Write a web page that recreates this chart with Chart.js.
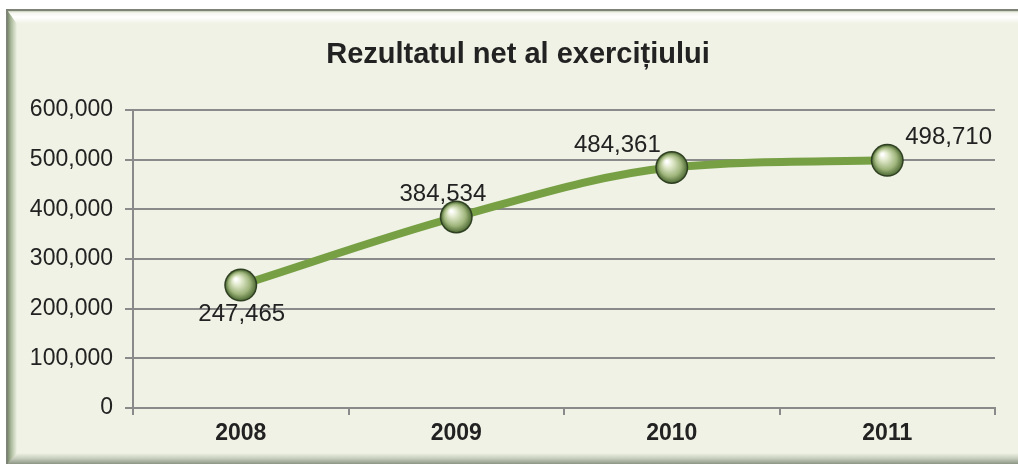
<!DOCTYPE html>
<html>
<head>
<meta charset="utf-8">
<script src="https://cdn.jsdelivr.net/npm/chart.js@4.4.1/dist/chart.umd.min.js"></script>
<style>
  html, body { margin: 0; padding: 0; background: #ffffff; }
  #wrap { width: 1018px; height: 464px; }
</style>
</head>
<body>
<div id="wrap"><canvas id="chart" width="1018" height="464"></canvas></div>
<script>
const titleText = "Rezultatul net al exercițiului";
const years = ["2008", "2009", "2010", "2011"];
const netResult = [247465, 384534, 484361, 498710];
const yTicks = [0, 100000, 200000, 300000, 400000, 500000, 600000];
// where each value label sits relative to its point
const labelSide = ["below", "aboveLeft", "aboveLeftFar", "aboveRight"];

const FONT = "'Liberation Sans', Arial, sans-serif";

function fmt(v) {
  return v.toLocaleString("en-US");
}

// bevelled frame + background + title
const framePlugin = {
  id: "frame",
  beforeDraw(chart) {
    const ctx = chart.ctx;
    const W = chart.width, H = chart.height;
    const x0 = 7, y0 = 10, x1 = W + 20, y1 = H + 2;
    ctx.save();
    ctx.fillStyle = "#eff2e4";
    ctx.fillRect(x0, y0, x1 - x0, y1 - y0);

    // top bevel
    let g = ctx.createLinearGradient(0, y0, 0, y0 + 14);
    g.addColorStop(0, "#aab39c");
    g.addColorStop(0.2, "#f4f6ee");
    g.addColorStop(0.5, "#ffffff");
    g.addColorStop(1, "#eff2e4");
    ctx.fillStyle = g;
    ctx.beginPath();
    ctx.moveTo(x0, y0); ctx.lineTo(x1, y0); ctx.lineTo(x1 - 10, y0 + 14); ctx.lineTo(x0 + 10, y0 + 14);
    ctx.closePath(); ctx.fill();

    // left bevel
    g = ctx.createLinearGradient(x0, 0, x0 + 10, 0);
    g.addColorStop(0, "#6f7f62");
    g.addColorStop(0.4, "#aab89a");
    g.addColorStop(1, "#eff2e4");
    ctx.fillStyle = g;
    ctx.beginPath();
    ctx.moveTo(x0, y0); ctx.lineTo(x0 + 10, y0 + 14); ctx.lineTo(x0 + 10, y1 - 10); ctx.lineTo(x0, y1);
    ctx.closePath(); ctx.fill();

    // bottom bevel
    g = ctx.createLinearGradient(0, H - 11, 0, H);
    g.addColorStop(0, "#eff2e4");
    g.addColorStop(0.5, "#c7cdbc");
    g.addColorStop(1, "#8c9584");
    ctx.fillStyle = g;
    ctx.beginPath();
    ctx.moveTo(x0 + 10, H - 11); ctx.lineTo(x1, H - 11); ctx.lineTo(x1, H); ctx.lineTo(x0, H);
    ctx.closePath(); ctx.fill();

    ctx.strokeStyle = "#7d8475";
    ctx.lineWidth = 2;
    ctx.beginPath();
    ctx.moveTo(x0, H); ctx.lineTo(x0, y0); ctx.lineTo(W, y0);
    ctx.stroke();

    ctx.fillStyle = "#222222";
    ctx.font = "bold 29px " + FONT;
    ctx.textAlign = "center";
    ctx.textBaseline = "middle";
    ctx.fillText(titleText, 518, 55);
    ctx.restore();
  }
};

// sphere markers and value labels
const markerPlugin = {
  id: "markers",
  afterDatasetsDraw(chart) {
    const ctx = chart.ctx;
    const meta = chart.getDatasetMeta(0);
    ctx.save();
    meta.data.forEach((pt, i) => {
      const x = pt.x, y = pt.y, r = 15;
      ctx.beginPath();
      ctx.arc(x, y, r + 1.5, 0, Math.PI * 2);
      ctx.fillStyle = "#2f3f22";
      ctx.fill();
      const g = ctx.createRadialGradient(x - 5, y - 6, 1, x, y, r);
      g.addColorStop(0, "#ffffff");
      g.addColorStop(0.25, "#e2eacd");
      g.addColorStop(0.7, "#9fb57c");
      g.addColorStop(1, "#55703a");
      ctx.beginPath();
      ctx.arc(x, y, r, 0, Math.PI * 2);
      ctx.fillStyle = g;
      ctx.fill();

      ctx.fillStyle = "#222222";
      ctx.font = "24px " + FONT;
      ctx.textBaseline = "middle";
      const txt = fmt(netResult[i]);
      const side = labelSide[i];
      if (side === "below") {
        ctx.textAlign = "center";
        ctx.fillText(txt, x + 1, y + 29);
      } else if (side === "aboveLeft") {
        ctx.textAlign = "right";
        ctx.fillText(txt, x + 30, y - 23);
      } else if (side === "aboveLeftFar") {
        ctx.textAlign = "right";
        ctx.fillText(txt, x - 11, y - 22);
      } else {
        ctx.textAlign = "left";
        ctx.fillText(txt, x + 18, y - 23);
      }
    });
    ctx.restore();
  }
};

new Chart("chart", {
  type: "line",
  data: {
    labels: years,
    datasets: [{
      data: netResult,
      borderColor: "#77a045",
      borderWidth: 8,
      tension: 0.4,
      cubicInterpolationMode: "monotone",
      pointRadius: 0,
      fill: false
    }]
  },
  options: {
    responsive: false,
    animation: false,
    layout: { padding: { top: 110, right: 23, bottom: 0, left: 0 } },
    plugins: {
      legend: { display: false },
      tooltip: { enabled: false }
    },
    scales: {
      x: {
        offset: true,
        grid: { offset: true, drawOnChartArea: false, tickLength: 7, color: "#8a8a8a", lineWidth: 2 },
        border: { color: "#8a8a8a", width: 2 },
        ticks: { color: "#222222", font: { family: FONT, size: 23, weight: "bold" }, padding: 5 },
        afterFit(s) { s.height = 56; }
      },
      y: {
        min: 0,
        max: 600000,
        afterBuildTicks(s) { s.ticks = yTicks.map(v => ({ value: v })); },
        grid: { color: "#8a8a8a", lineWidth: 2, tickLength: 8 },
        border: { color: "#8a8a8a", width: 2 },
        ticks: {
          color: "#222222",
          font: { family: FONT, size: 23 },
          padding: 12,
          callback: v => fmt(v)
        },
        afterFit(s) { s.width = 133; }
      }
    }
  },
  plugins: [framePlugin, markerPlugin]
});
</script>
</body>
</html>
